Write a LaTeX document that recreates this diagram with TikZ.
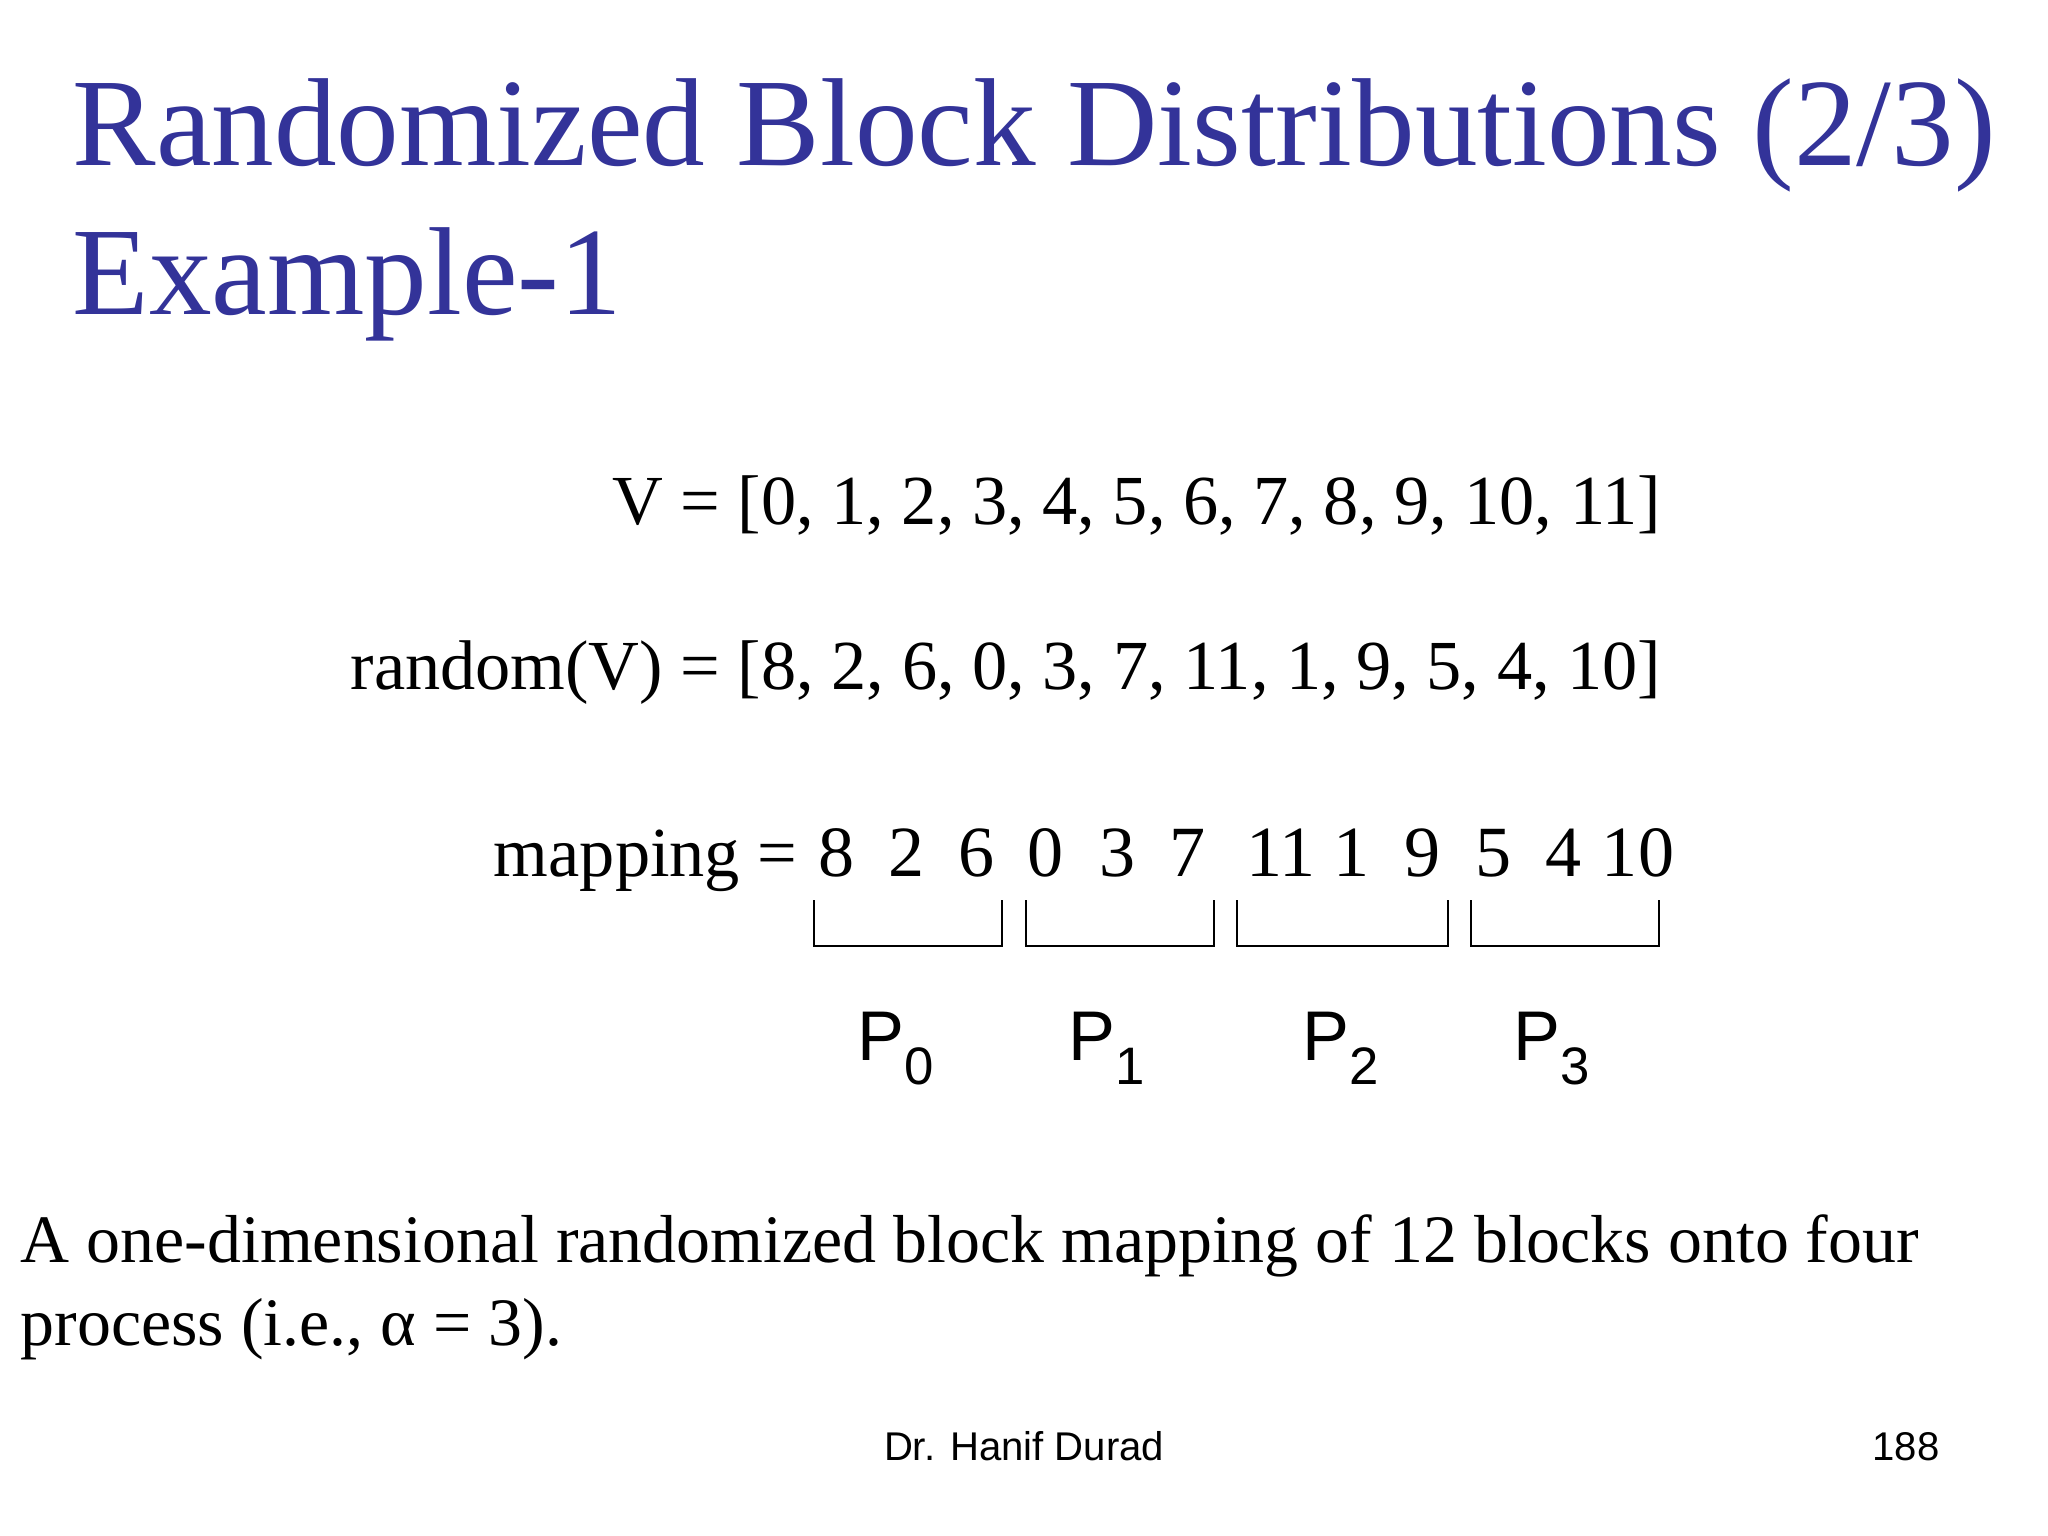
\documentclass[tikz,border=0pt]{standalone}
\usepackage{fontspec}
\setmainfont{Liberation Serif}
\setsansfont{Liberation Sans}
\definecolor{titleblue}{RGB}{51,51,153}
\begin{document}
\begin{tikzpicture}[x=0.01cm,y=-0.01cm,
  title/.style={anchor=base west,inner sep=0,text=titleblue,font=\fontsize{35.6pt}{40pt}\selectfont},
  eq/.style={anchor=base east,inner sep=0,font=\fontsize{20pt}{24pt}\selectfont},
  num/.style={anchor=base,inner sep=0,font=\fontsize{20.5pt}{24pt}\selectfont},
  plabel/.style={anchor=base,inner sep=0,font=\sffamily\fontsize{20pt}{24pt}\selectfont},
  captext/.style={anchor=base west,inner sep=0,font=\fontsize{19.3pt}{23pt}\selectfont},
  foot/.style={anchor=base,inner sep=0,font=\sffamily\fontsize{11.4pt}{14pt}\selectfont},
  brk/.style={draw,line width=0.8pt}]
\useasboundingbox (0,0) rectangle (2048,1536);
\node[title] (t1) at (72,165) {Randomized Block Distributions (2/3)};
\node[title] (t2) at (72,314) {Example-1};
\node[eq] (v) at (1662,524) {V = [0, 1, 2, 3, 4, 5, 6, 7, 8, 9, 10, 11]};
\node[eq] (r) at (1662,689) {random(V) = [8, 2, 6, 0, 3, 7, 11, 1, 9, 5, 4, 10]};
\node[eq] (m) at (798,876) {mapping =};
\foreach \v/\x [count=\i] in {8/837,2/907,6/977,0/1046,3/1118,7/1188,11/1281,1/1352,9/1423,5/1494,4/1564,10/1638}
  \node[num] (n\i) at (\x,876) {\v};
\foreach \a/\b [count=\i from 0] in {814/1002,1026/1214,1237/1448,1471/1659}{
  \coordinate (b\i a) at (\a,900);
  \coordinate (b\i b) at (\b,900);
  \draw[brk] (b\i a) -- ++(0,46) -| (b\i b);
}
\foreach \x [count=\i from 0] in {896,1107,1341,1552}
  \node[plabel] (p\i) at (\x,1060) {P\raisebox{-0.35em}{\fontsize{15pt}{16pt}\selectfont\i}};
\node[captext] (c1) at (20,1262) {A one-dimensional randomized block mapping of 12 blocks onto four};
\node[captext] (c2) at (20,1345) {process (i.e., α = 3).};
\node[foot] (f1) at (1024,1460) {Dr. Hanif Durad};
\node[foot] (f2) at (1906,1460) {188};
\end{tikzpicture}
\end{document}
